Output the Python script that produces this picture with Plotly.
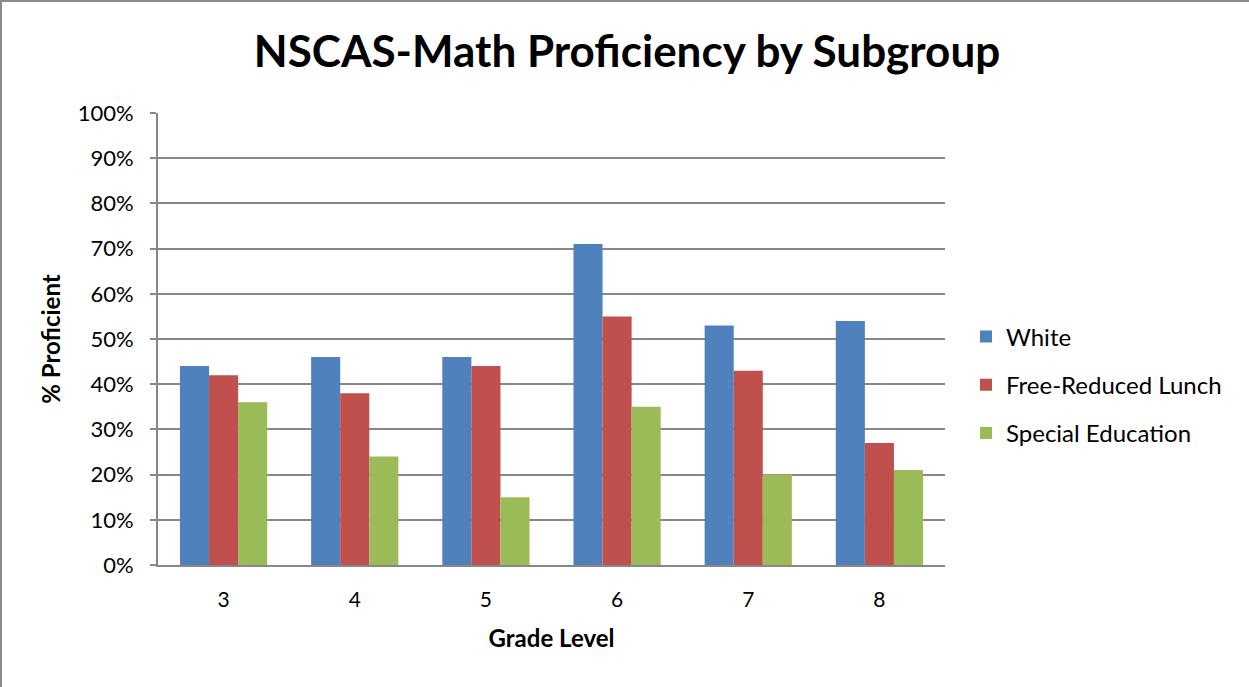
import plotly.graph_objects as go

grades = ["3", "4", "5", "6", "7", "8"]
white = [0.44, 0.46, 0.46, 0.71, 0.53, 0.54]
free_reduced = [0.42, 0.38, 0.44, 0.55, 0.43, 0.27]
special_ed = [0.36, 0.24, 0.15, 0.35, 0.20, 0.21]

W, H = 1249, 687
L, R, T, B = 158, 304, 113, 122
pw, ph = W - L - R, H - T - B

FONT = "Lato, Carlito, Calibri, sans-serif"
GRID = "#878787"

fig = go.Figure()
for name, vals, color in [
    ("White", white, "#4F81BD"),
    ("Free-Reduced Lunch", free_reduced, "#C0504D"),
    ("Special Education", special_ed, "#9BBB59"),
]:
    fig.add_trace(go.Bar(x=grades, y=vals, name=name, legendgroup=name,
                         marker=dict(color=color, line=dict(width=0))))

fig.update_layout(
    width=W,
    height=H,
    paper_bgcolor="white",
    plot_bgcolor="white",
    font=dict(family=FONT, color="black", size=20),
    title=dict(text="<b>NSCAS-Math Proficiency by Subgroup</b>",
               x=627 / W, xanchor="center", y=1 - 52 / H, yanchor="middle",
               font=dict(size=44)),
    barmode="group",
    bargap=0.335,
    bargroupgap=0,
    margin=dict(l=L, r=R, t=T, b=B, autoexpand=False),
    xaxis=dict(
        showline=True, linecolor=GRID, linewidth=2,
        ticks="", tickfont=dict(size=21), ticklabelstandoff=15,
        title=dict(text="<b>Grade Level</b>", font=dict(size=24), standoff=20),
    ),
    yaxis=dict(
        range=[0, 1], dtick=0.1, tickformat=".0%",
        showline=True, linecolor=GRID, linewidth=2,
        showgrid=True, gridcolor=GRID, gridwidth=1.6,
        ticks="outside", ticklen=6, tickcolor=GRID, tickwidth=1.6,
        tickfont=dict(size=22), ticklabelstandoff=12, zeroline=False,
        title=dict(text="<b>% Proficient</b>", font=dict(size=24), standoff=10),
    ),
    legend=dict(
        x=(966 - L) / pw, xanchor="left",
        y=1 - (385 - T) / ph, yanchor="middle",
        traceorder="grouped", tracegroupgap=14,
        font=dict(size=24),
        bgcolor="rgba(0,0,0,0)",
    ),
    shapes=[
        dict(type="line", xref="paper", yref="paper",
             x0=(1 - L) / pw, x1=(1 - L) / pw, y0=-B / ph, y1=1 + T / ph,
             line=dict(color="#8c8c8c", width=2), layer="below"),
        dict(type="line", xref="paper", yref="paper",
             x0=-L / pw, x1=(W - L) / pw, y0=1 + (T - 1) / ph, y1=1 + (T - 1) / ph,
             line=dict(color="#8c8c8c", width=2), layer="below"),
    ],
)

fig.write_html("out.html", config={"displayModeBar": False},
               post_script="document.body.style.margin='0';")
